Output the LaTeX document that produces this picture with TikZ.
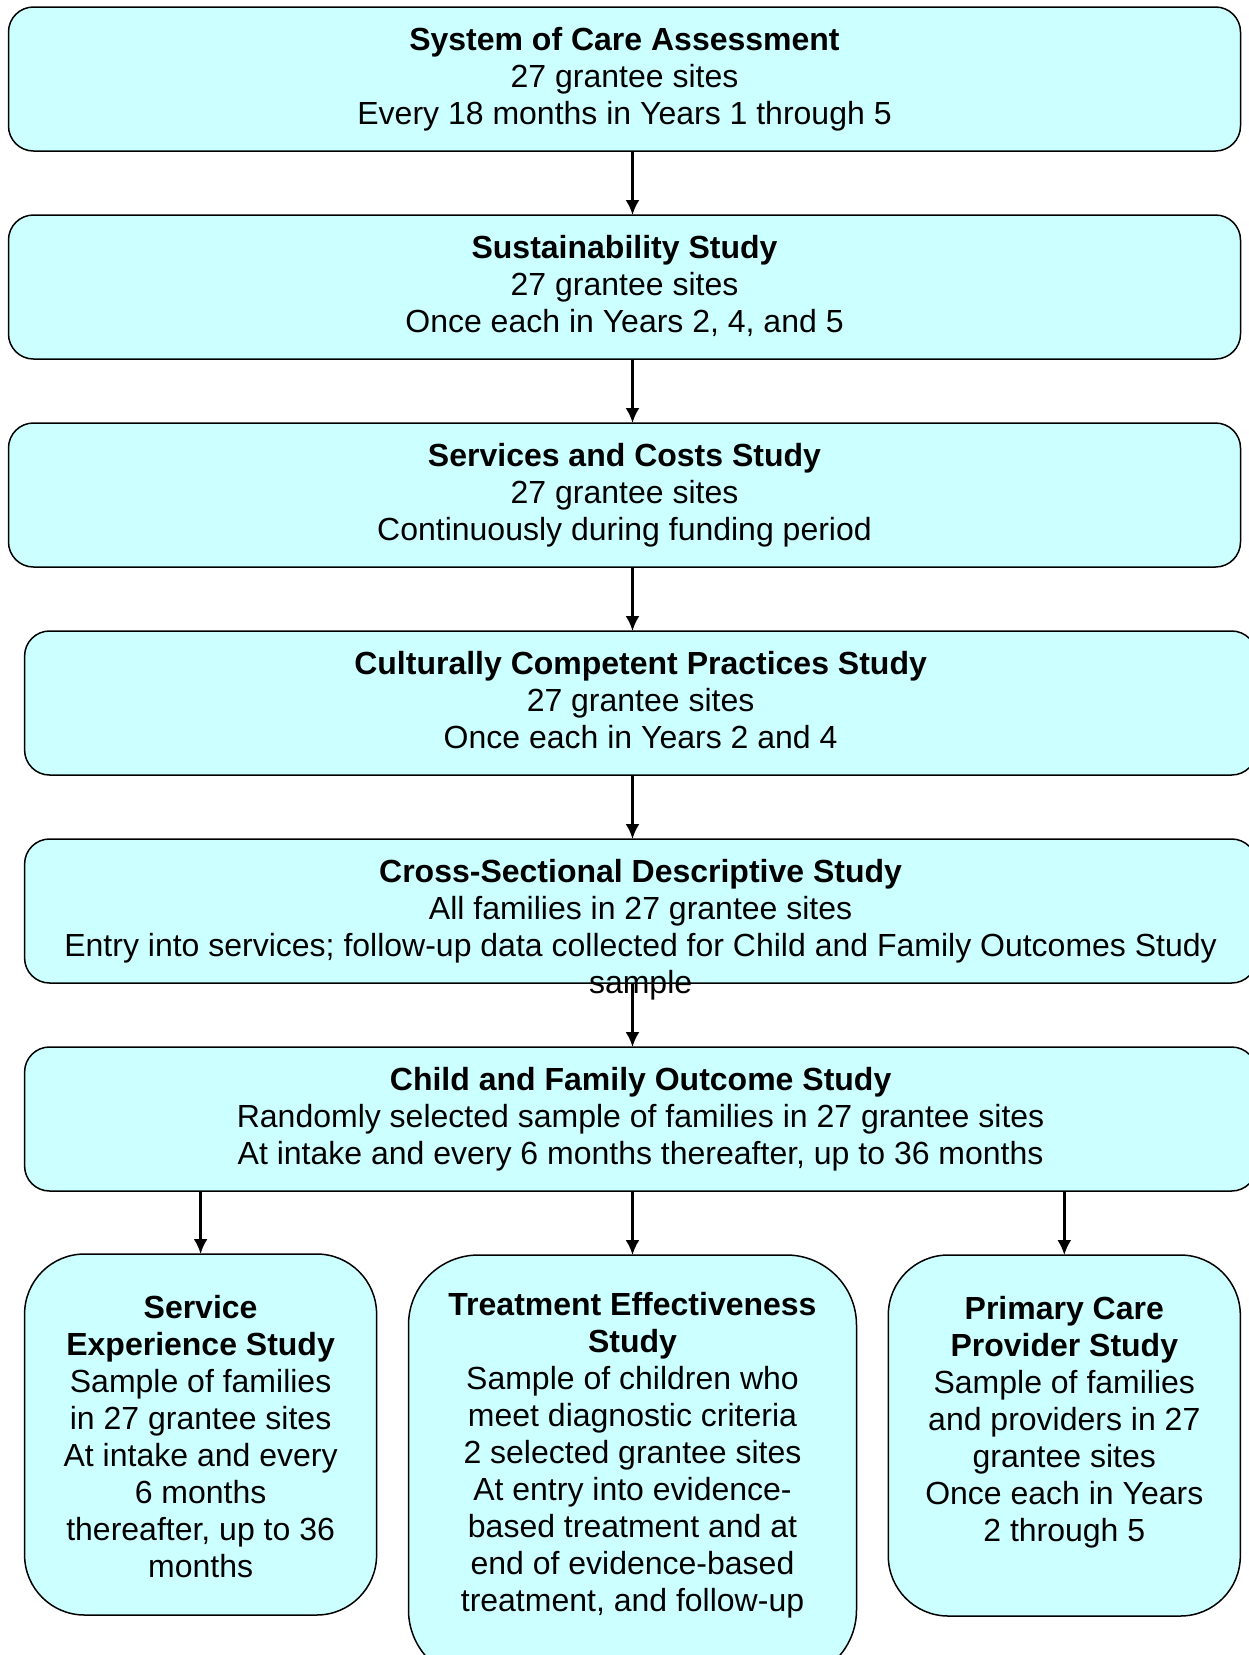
\documentclass[tikz,border=0pt]{standalone}
\usepackage{fontspec}
\setmainfont{Liberation Sans}
\usepackage{tikz}
\usetikzlibrary{arrows.meta, calc}
\definecolor{boxfill}{HTML}{CCFFFF}

\begin{document}
\begin{tikzpicture}[x=1pt, y=-1pt, >={Latex[length=15pt,width=14pt]},
  every node/.style={inner sep=0pt, outer sep=0pt},
  stage/.style={draw, line width=1.5pt, fill=boxfill, rounded corners=25pt, minimum width=1232pt, minimum height=144pt},
  study/.style={draw, line width=1.5pt, fill=boxfill, rounded corners=60pt, minimum width=352pt, minimum height=361pt},
  txt/.style={anchor=north, align=center, font=\fontsize{32}{37}\selectfont},
  arr/.style={->, line width=2.5pt}]

\useasboundingbox (0,0) rectangle (1248,1655);

% stacked studies
\node(b1)[stage] at (624.5,79){};
\node(b2)[stage] at (624.5,287){};
\node(b3)[stage] at (624.5,495){};
\node(b4)[stage] at (640.6,703){};
\node(b5)[stage] at (640.6,911){};
\node(b6)[stage] at (640.6,1119){};

\node(t1)[txt] at ($(b1.north) + (0,20.5)$){\textbf{System of Care Assessment}\\27 grantee sites\\Every 18 months in Years 1 through 5};
\node(t2)[txt] at ($(b2.north) + (0,20.5)$){\textbf{Sustainability Study}\\27 grantee sites\\Once each in Years 2, 4, and 5};
\node(t3)[txt] at ($(b3.north) + (0,20.5)$){\textbf{Services and Costs Study}\\27 grantee sites\\Continuously during funding period};
\node(t4)[txt] at ($(b4.north) + (0,20.5)$){\textbf{Culturally Competent Practices Study}\\27 grantee sites\\Once each in Years 2 and 4};
\node(t5)[txt] at ($(b5.north) + (0,20.5)$){\textbf{Cross-Sectional Descriptive Study}\\All families in 27 grantee sites\\Entry into services; follow-up data collected for Child and Family Outcomes Study\\sample};
\node(t6)[txt] at ($(b6.north) + (0,20.5)$){\textbf{Child and Family Outcome Study}\\Randomly selected sample of families in 27 grantee sites\\At intake and every 6 months thereafter, up to 36 months};

% the three follow-on studies
\node(s1)[study] at (200.6,1434.5){};
\node(s2)[study, minimum width=448pt, minimum height=425pt, rounded corners=70pt] at (632.5,1467.5){};
\node(s3)[study] at (1064.3,1435.5){};

\node(u1)[txt] at ($(s1.north) + (0,41.5)$){\textbf{Service}\\\textbf{Experience Study}\\Sample of families\\in 27 grantee sites\\At intake and every\\6 months\\thereafter, up to 36\\months};
\node(u2)[txt] at ($(s2.north) + (0,37.5)$){\textbf{Treatment Effectiveness}\\\textbf{Study}\\Sample of children who\\meet diagnostic criteria\\2 selected grantee sites\\At entry into evidence-\\based treatment and at\\end of evidence-based\\treatment, and follow-up};
\node(u3)[txt] at ($(s3.north) + (0,41.5)$){\textbf{Primary Care}\\\textbf{Provider Study}\\Sample of families\\and providers in 27\\grantee sites\\Once each in Years\\2 through 5};

\coordinate (spine) at (632.5,0);

\draw[arr] (b1.south -| spine) -- (b2.north -| spine);
\draw[arr] (b2.south -| spine) -- (b3.north -| spine);
\draw[arr] (b3.south -| spine) -- (b4.north -| spine);
\draw[arr] (b4.south -| spine) -- (b5.north -| spine);
\draw[arr] (b5.south -| spine) -- (b6.north -| spine);

\foreach \s in {s1,s2,s3}
  \draw[arr] (\s.north |- b6.south) -- (\s.north);
\end{tikzpicture}
\end{document}
